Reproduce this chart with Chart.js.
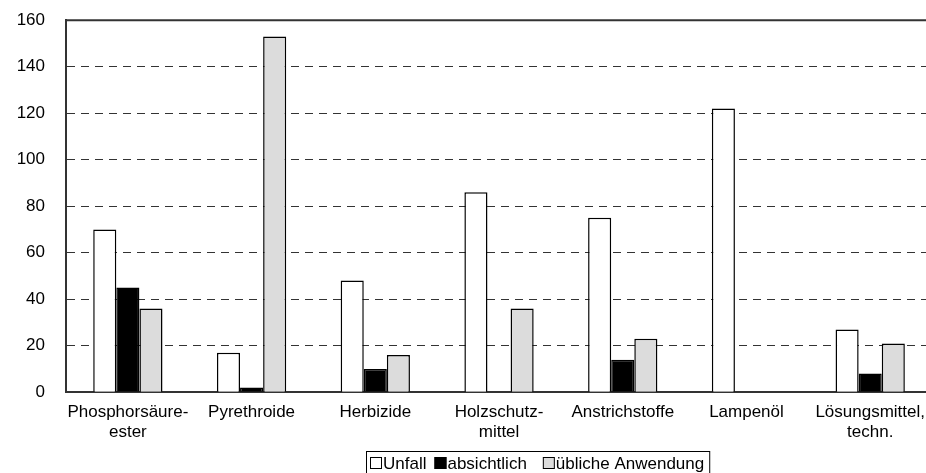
<!DOCTYPE html>
<html lang="de">
<head>
  <meta charset="UTF-8" />
  <title>Vergiftungen</title>
  <script src="https://cdn.jsdelivr.net/npm/chart.js"></script>
  <style>
    html, body { margin: 0; padding: 0; background: #fff; overflow: hidden; }
    #wrap { width: 935px; height: 484px; margin-top: -11px; }
  </style>
</head>
<body>
  <div id="wrap"><canvas id="chart"></canvas></div>

  <script>
    const categories = [
      ["Phosphorsäure-", "ester"],
      "Pyrethroide",
      "Herbizide",
      ["Holzschutz-", "mittel"],
      "Anstrichstoffe",
      "Lampenöl",
      ["Lösungsmittel,", "techn."]
    ];
    const unfall = [70, 17, 48, 86, 75, 122, 27];
    const absichtlich = [45, 2, 10, 0, 14, 0, 8];
    const ueblich = [36, 153, 16, 36, 23, 0, 21];
    const yTicks = [0, 20, 40, 60, 80, 100, 120, 140, 160];

    const FONT = "'Liberation Sans', Arial, sans-serif";
    const FSIZE = 17;
    const SHIFT = 11; // Canvas ist um 11px nach oben verschoben

    // obere Rahmenlinie + Legende mit Rahmen
    const extras = {
      id: "extras",
      afterDraw(chart) {
        const ctx = chart.ctx;
        const a = chart.chartArea;
        ctx.save();
        ctx.strokeStyle = "#333";
        ctx.lineWidth = 2;
        ctx.beginPath();
        ctx.moveTo(a.left, a.top);
        ctx.lineTo(a.right, a.top);
        ctx.stroke();

        // Legende
        ctx.font = FSIZE + "px " + FONT;
        ctx.textBaseline = "middle";
        ctx.textAlign = "left";
        const sets = chart.data.datasets;
        const gaps = [8, 16], box = 12;
        let w = 3;
        sets.forEach((ds, i) => {
          w += box + 1 + ctx.measureText(ds.label).width + (i < sets.length - 1 ? gaps[i] : 6);
        });
        const left = 366, top = 451 + SHIFT, cy = 463 + SHIFT;
        ctx.strokeStyle = "#000";
        ctx.lineWidth = 1;
        ctx.strokeRect(left + 0.5, top + 0.5, w, 30);
        let x = left + 4;
        sets.forEach((ds, i) => {
          ctx.fillStyle = ds.backgroundColor;
          ctx.fillRect(x, cy - box / 2, box, box);
          ctx.strokeStyle = "#000";
          ctx.lineWidth = 1;
          ctx.strokeRect(x + 0.5, cy - box / 2 + 0.5, box - 1, box - 1);
          x += box + 1;
          ctx.fillStyle = "#000";
          ctx.fillText(ds.label, x, cy + 1);
          x += ctx.measureText(ds.label).width + (gaps[i] || 0);
        });
        ctx.restore();
      }
    };

    new Chart(document.getElementById("chart"), {
      type: "bar",
      data: {
        labels: categories,
        datasets: [
          { label: "Unfall", data: unfall, backgroundColor: "#ffffff", borderColor: "#000", borderWidth: 1.5 },
          { label: "absichtlich", data: absichtlich, backgroundColor: "#000000", borderColor: "#000", borderWidth: 1.5 },
          { label: "übliche Anwendung", data: ueblich, backgroundColor: "#dcdcdc", borderColor: "#000", borderWidth: 1.5 }
        ]
      },
      options: {
        responsive: true,
        maintainAspectRatio: false,
        animation: false,
        layout: { padding: { top: 0, right: 0, left: 12, bottom: 20 } },
        datasets: { bar: { categoryPercentage: 0.56, barPercentage: 1 } },
        plugins: {
          tooltip: { enabled: false },
          legend: { display: false }
        },
        scales: {
          x: {
            grid: { display: false, drawTicks: false },
            border: { display: true, color: "#333", width: 2 },
            ticks: { color: "#000", font: { family: FONT, size: FSIZE }, padding: 10, maxRotation: 0, autoSkip: false }
          },
          y: {
            min: 0,
            max: 160,
            afterBuildTicks(scale) { scale.ticks = yTicks.map(v => ({ value: v })); },
            afterFit(scale) { scale.width = 54; },
            grid: { color: "#333", lineWidth: 1, drawTicks: false },
            border: { display: true, color: "#333", width: 2, dash: [8, 6] },
            ticks: { color: "#000", font: { family: FONT, size: FSIZE }, padding: 21 }
          }
        }
      },
      plugins: [extras]
    });
  </script>
</body>
</html>
